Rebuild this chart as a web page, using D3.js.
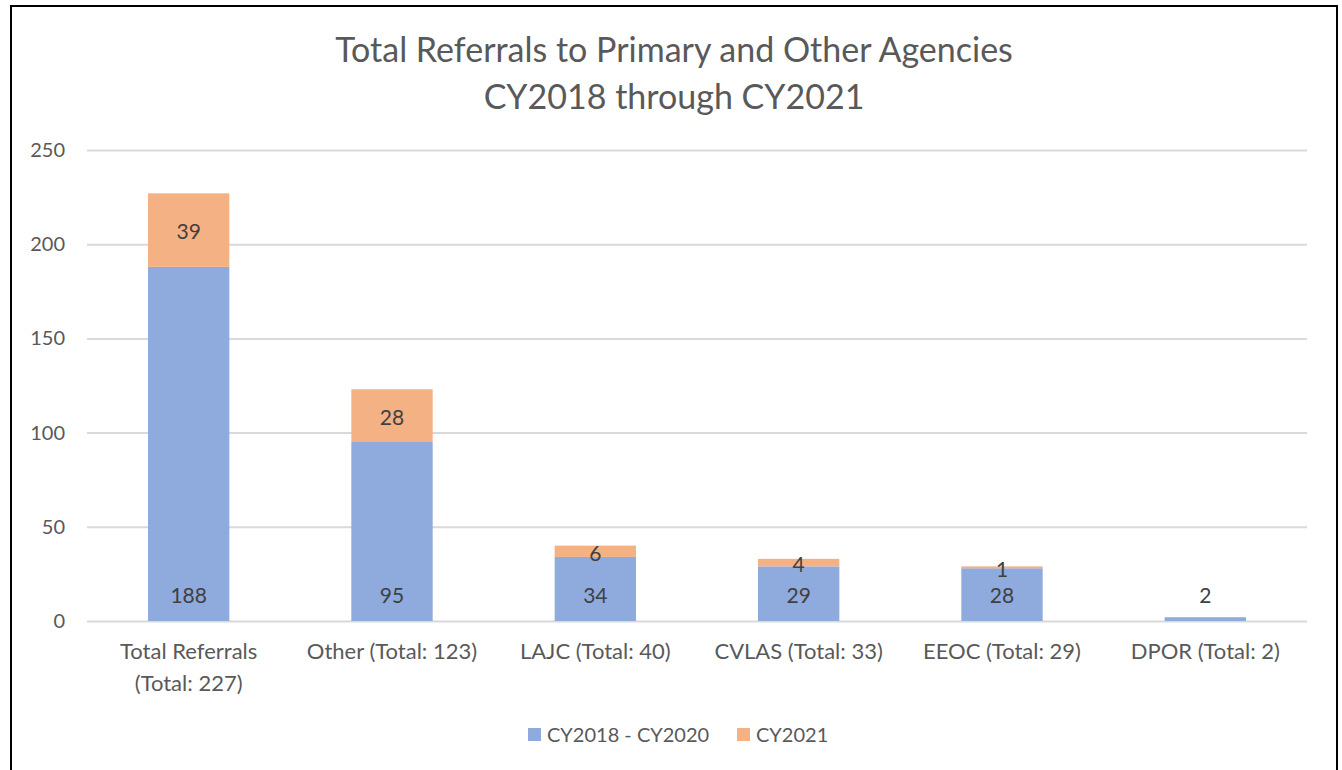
<!DOCTYPE html>
<html>
<head>
<meta charset="utf-8">
<script src="https://cdn.jsdelivr.net/npm/d3@7"></script>
<style>
  body { margin: 0; background: #fff; }
  text { font-family: Lato, "Open Sans", sans-serif; }
</style>
</head>
<body>
<svg id="chart"></svg>
<script>
var categories = [["Total Referrals", "(Total: 227)"], ["Other (Total: 123)"], ["LAJC (Total: 40)"],
                  ["CVLAS (Total: 33)"], ["EEOC (Total: 29)"], ["DPOR (Total: 2)"]];
var series = ["CY2018 - CY2020", "CY2021"];
var cy2018to2020 = [188, 95, 34, 29, 28, 2];
var cy2021 = [39, 28, 6, 4, 1, 0];
var yTicks = [0, 50, 100, 150, 200, 250];

var W = 1342, H = 770;
var margin = {top: 150, right: 35, bottom: 149, left: 87};

var svg = d3.select("#chart").attr("width", W).attr("height", H);

// frame
svg.append("rect")
  .attr("x", 11).attr("y", 6)
  .attr("width", 1326).attr("height", 780)
  .attr("fill", "#fff").attr("stroke", "#000").attr("stroke-width", 2);

var x = d3.scaleBand()
  .domain(d3.range(categories.length))
  .range([margin.left, W - margin.right])
  .paddingInner(0.6).paddingOuter(0.3);

var y = d3.scaleLinear()
  .domain([0, 250])
  .range([H - margin.bottom, margin.top]);

// title
var title = svg.append("text")
  .attr("text-anchor", "middle")
  .style("font-size", "34px")
  .style("fill", "#595959");
title.append("tspan").attr("x", 674).attr("y", 62).text("Total Referrals to Primary and Other Agencies");
title.append("tspan").attr("x", 674).attr("y", 109).text("CY2018 through CY2021");

// grid + y labels
var yAxis = d3.axisLeft(y).tickValues(yTicks).tickSize(-(W - margin.right - margin.left)).tickPadding(22);
var gy = svg.append("g")
  .attr("transform", "translate(" + margin.left + ",0)")
  .call(yAxis);
gy.select(".domain").remove();
gy.selectAll(".tick line").attr("stroke", "#d9d9d9").attr("stroke-width", 2);
gy.selectAll(".tick text")
  .style("font-family", "Lato, sans-serif")
  .style("font-size", "20px")
  .attr("fill", "#595959");

// bars
var rows = categories.map(function(c, i) { return {i: i, a: cy2018to2020[i], b: cy2021[i]}; });

svg.append("g").selectAll("rect")
  .data(rows).enter().append("rect")
  .attr("x", function(d) { return x(d.i); })
  .attr("width", x.bandwidth())
  .attr("y", function(d) { return y(d.a); })
  .attr("height", function(d) { return y(0) - y(d.a); })
  .attr("fill", "#8faadc");

svg.append("g").selectAll("rect")
  .data(rows.filter(function(d) { return d.b > 0; })).enter().append("rect")
  .attr("x", function(d) { return x(d.i); })
  .attr("width", x.bandwidth())
  .attr("y", function(d) { return y(d.a + d.b); })
  .attr("height", function(d) { return y(d.a) - y(d.a + d.b); })
  .attr("fill", "#f4b183");

// data labels (inside base for first series, centered for second)
svg.append("g").selectAll("text")
  .data(rows).enter().append("text")
  .attr("x", function(d) { return x(d.i) + x.bandwidth() / 2; })
  .attr("y", y(0) - 25)
  .attr("dy", "0.35em")
  .attr("text-anchor", "middle")
  .style("font-size", "21px")
  .style("fill", "#404040")
  .text(function(d) { return d.a; });

svg.append("g").selectAll("text")
  .data(rows.filter(function(d) { return d.b > 0; })).enter().append("text")
  .attr("x", function(d) { return x(d.i) + x.bandwidth() / 2; })
  .attr("y", function(d) { return y(d.a + d.b / 2) + 2; })
  .attr("dy", "0.35em")
  .attr("text-anchor", "middle")
  .style("font-size", "21px")
  .style("fill", "#404040")
  .text(function(d) { return d.b; });

// category labels
var cl = svg.append("g").selectAll("text")
  .data(categories).enter().append("text")
  .attr("text-anchor", "middle")
  .style("font-size", "22px")
  .style("fill", "#595959");
cl.each(function(c, i) {
  var t = d3.select(this);
  c.forEach(function(line, k) {
    t.append("tspan")
      .attr("x", x(i) + x.bandwidth() / 2)
      .attr("y", 659 + k * 32)
      .text(line);
  });
});

// legend
var legendX = [528, 737];
var colors = ["#8faadc", "#f4b183"];
var lg = svg.append("g").selectAll("g")
  .data(series).enter().append("g")
  .attr("transform", function(d, i) { return "translate(" + legendX[i] + ",728)"; });
lg.append("rect").attr("width", 13).attr("height", 13)
  .attr("fill", function(d, i) { return colors[i]; });
lg.append("text")
  .attr("x", 19).attr("y", 7).attr("dy", "0.35em")
  .style("font-size", "20px")
  .style("fill", "#595959")
  .text(function(d) { return d; });
</script>
</body>
</html>
